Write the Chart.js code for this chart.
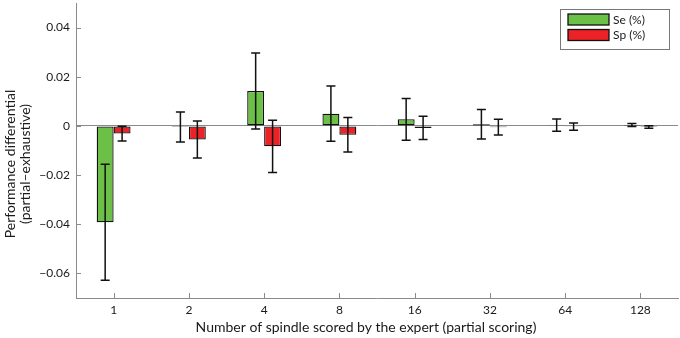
<!DOCTYPE html>
<html>
<head>
<meta charset="utf-8">
<script src="https://cdn.jsdelivr.net/npm/chart.js@4.4.1/dist/chart.umd.min.js"></script>
<style>
  html, body { margin: 0; padding: 0; background: #fff; }
  #wrap { width: 680px; height: 338px; }
</style>
</head>
<body>
<div id="wrap"><canvas id="chart" width="680" height="338"></canvas></div>
<script>
// Data
const categories = ["1", "2", "4", "8", "16", "32", "64", "128"];
const seValues = [-0.0392, -0.0004, 0.0142, 0.005, 0.0027, 0.0007, 0.0003, 0.0004];
const seErrors = [0.0236, 0.0061, 0.0155, 0.0112, 0.0085, 0.006, 0.0025, 0.0006];
const spValues = [-0.0031, -0.0055, -0.0083, -0.0036, -0.0008, -0.0005, -0.0003, -0.0004];
const spErrors = [0.003, 0.0075, 0.0106, 0.007, 0.0047, 0.0032, 0.0015, 0.0005];
const yTicks = [-0.06, -0.04, -0.02, 0, 0.02, 0.04];

const FONT = "Lato";
const AXIS_COLOR = "#8a8a8a";

// Error bars drawn on top of each bar
const errorBars = {
  id: "errorBars",
  afterDatasetsDraw(chart) {
    const ctx = chart.ctx;
    const y = chart.scales.y;
    ctx.save();
    ctx.strokeStyle = "#111";
    ctx.lineWidth = 1.5;
    chart.data.datasets.forEach((ds, i) => {
      const meta = chart.getDatasetMeta(i);
      meta.data.forEach((bar, j) => {
        const v = ds.data[j], e = ds.errors[j];
        const top = y.getPixelForValue(v + e);
        const bot = y.getPixelForValue(v - e);
        const cap = 4.5;
        ctx.beginPath();
        ctx.moveTo(bar.x, top); ctx.lineTo(bar.x, bot);
        ctx.moveTo(bar.x - cap, top); ctx.lineTo(bar.x + cap, top);
        ctx.moveTo(bar.x - cap, bot); ctx.lineTo(bar.x + cap, bot);
        ctx.stroke();
      });
    });
    ctx.restore();
  }
};

// Inward tick marks, titles and boxed legend (matlab look)
const decorations = {
  id: "decorations",
  afterDraw(chart) {
    const ctx = chart.ctx;
    const {x, y} = chart.scales;
    const area = chart.chartArea;
    ctx.save();
    ctx.strokeStyle = AXIS_COLOR;
    ctx.lineWidth = 1;
    ctx.beginPath();
    y.ticks.forEach((t, i) => {
      const py = Math.round(y.getPixelForTick(i)) + 0.5;
      ctx.moveTo(area.left, py); ctx.lineTo(area.left + 5, py);
    });
    x.ticks.forEach((t, i) => {
      const px = Math.round(x.getPixelForTick(i)) + 0.5;
      ctx.moveTo(px, area.bottom); ctx.lineTo(px, area.bottom - 5);
    });
    ctx.stroke();

    // axis titles
    ctx.fillStyle = "#1a1a1a";
    ctx.font = "14px " + FONT;
    ctx.textAlign = "center";
    ctx.textBaseline = "middle";
    ctx.fillText("Number of spindle scored by the expert (partial scoring)", 366, 327);
    ctx.save();
    ctx.translate(10, 164);
    ctx.rotate(-Math.PI / 2);
    ctx.fillText("Performance differential", 0, 0);
    ctx.fillText("(partial\u2013exhaustive)", 0, 15);
    ctx.restore();

    // legend
    const lx = 560, ly = 9, lw = 109, lh = 40;
    ctx.fillStyle = "#fff";
    ctx.fillRect(lx, ly, lw, lh);
    ctx.strokeStyle = "#777";
    ctx.strokeRect(lx + 0.5, ly + 0.5, lw, lh);
    ctx.font = "12px " + FONT;
    ctx.textAlign = "left";
    chart.data.datasets.forEach((ds, i) => {
      const sy = 14 + i * 15.5;
      ctx.fillStyle = ds.backgroundColor;
      ctx.fillRect(568, sy, 41, 11);
      ctx.strokeStyle = "#111";
      ctx.lineWidth = 1.3;
      ctx.strokeRect(568, sy, 41, 11);
      ctx.fillStyle = "#1a1a1a";
      ctx.fillText(ds.label, 613, sy + 6);
    });
    ctx.restore();
  }
};

const ctx = document.getElementById("chart").getContext("2d");
new Chart(ctx, {
  type: "bar",
  data: {
    labels: categories,
    datasets: [
      {
        label: "Se (%)",
        data: seValues,
        errors: seErrors,
        backgroundColor: "#6cbf47",
        borderColor: "#111",
        borderWidth: 1.3,
        borderSkipped: false,
      },
      {
        label: "Sp (%)",
        data: spValues,
        errors: spErrors,
        backgroundColor: "#ec2227",
        borderColor: "#111",
        borderWidth: 1.3,
        borderSkipped: false,
      },
    ],
  },
  options: {
    responsive: false,
    animation: false,
    events: [],
    categoryPercentage: 0.45,
    barPercentage: 1,
    layout: { padding: { top: 3, right: 2, left: 0, bottom: 0 } },
    plugins: {
      legend: { display: false },
      tooltip: { enabled: false },
    },
    scales: {
      x: {
        afterFit: (s) => { s.height = 40; s.paddingLeft = 0; s.paddingRight = 0; },
        grid: { display: false, drawTicks: false },
        border: { color: AXIS_COLOR, width: 1 },
        ticks: { color: "#1a1a1a", font: { family: FONT, size: 12 }, padding: 5, maxRotation: 0 },
      },
      y: {
        min: -0.07,
        max: 0.05,
        afterFit: (s) => { s.width = 76; s.paddingTop = 0; s.paddingBottom = 0; },
        afterBuildTicks: (s) => { s.ticks = yTicks.map((v) => ({ value: v })); },
        grid: {
          drawTicks: false,
          color: (c) => (c.tick && c.tick.value === 0 ? "#8a8a8a" : "rgba(0,0,0,0)"),
        },
        border: { color: AXIS_COLOR, width: 1 },
        ticks: {
          color: "#1a1a1a",
          font: { family: FONT, size: 12 },
          padding: 6,
          callback: (v) => (v === 0 ? "0" : (v < 0 ? "\u2212" : "") + Math.abs(v).toFixed(2)),
        },
      },
    },
  },
  plugins: [errorBars, decorations],
});
</script>
</body>
</html>
